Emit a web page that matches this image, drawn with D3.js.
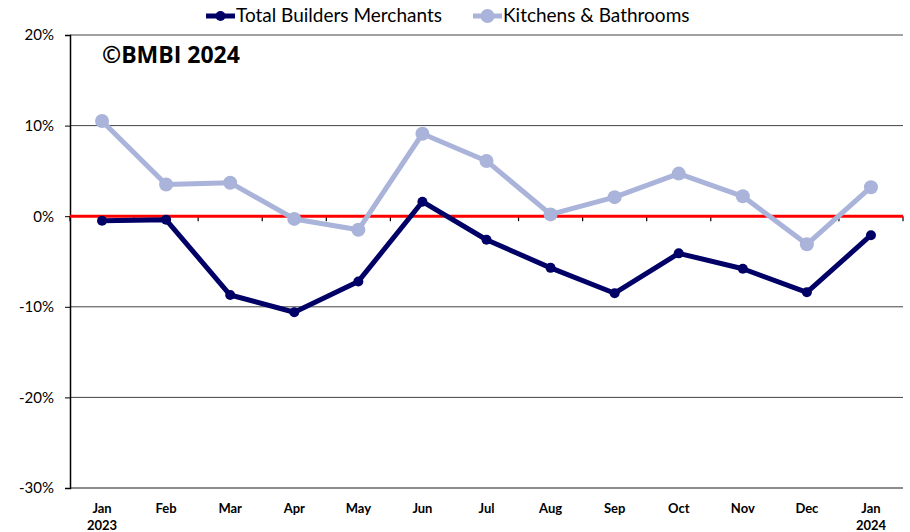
<!DOCTYPE html>
<html>
<head>
<meta charset="utf-8">
<script src="https://cdn.jsdelivr.net/npm/d3@7"></script>
<style>
  body { margin: 0; background: #fff; }
  svg { display: block; font-family: Lato, "Noto Sans", sans-serif; }
</style>
</head>
<body>
<svg id="chart" width="910" height="532"></svg>
<script>
// months on the x axis (second line = year, only on first/last)
const months = ["Jan", "Feb", "Mar", "Apr", "May", "Jun", "Jul", "Aug", "Sep", "Oct", "Nov", "Dec", "Jan"];
const years = ["2023", "", "", "", "", "", "", "", "", "", "", "", "2024"];

// % change
const totalBM = [-0.5, -0.4, -8.7, -10.6, -7.2, 1.6, -2.6, -5.7, -8.5, -4.1, -5.8, -8.4, -2.1];
const kitchensBath = [10.5, 3.5, 3.7, -0.3, -1.5, 9.1, 6.1, 0.2, 2.1, 4.7, 2.2, -3.1, 3.2];

const yTicks = [20, 10, 0, -10, -20, -30];

const seriesList = [
  { name: "Total Builders Merchants", values: totalBM, color: "#000066", r: 5 },
  { name: "Kitchens & Bathrooms", values: kitchensBath, color: "#aab3d9", r: 7 }
];

const svg = d3.select("#chart");
const margin = { left: 70, right: 7, top: 35, bottom: 44 };
const W = 910, H = 532;

const x = d3.scaleBand()
  .domain(d3.range(months.length))
  .range([margin.left, W - margin.right])
  .paddingInner(0).paddingOuter(0);

const y = d3.scaleLinear()
  .domain([-30, 20])
  .range([H - margin.bottom, margin.top]);

// gridlines
svg.append("g")
  .selectAll("line")
  .data(yTicks.filter(d => d !== 0))
  .enter().append("line")
  .attr("x1", margin.left)
  .attr("x2", W - margin.right)
  .attr("y1", d => y(d))
  .attr("y2", d => y(d))
  .attr("stroke", d => d === -30 ? "#666" : "#444")
  .attr("stroke-width", d => d === -30 ? 1.5 : 1);

// y axis
const yAxis = svg.append("g")
  .attr("transform", "translate(" + margin.left + ",0)")
  .call(d3.axisLeft(y).tickValues(yTicks).tickSize(5).tickFormat(d => d + "%"));
yAxis.select(".domain").attr("stroke", "#000").attr("stroke-width", 1.5);
yAxis.selectAll(".tick line").attr("stroke", "#000");
yAxis.selectAll("text")
  .attr("x", -16)
  .attr("font-family", "Lato, sans-serif")
  .attr("font-size", 15)
  .attr("fill", "#000");

// category tick marks on the zero line
svg.append("g")
  .selectAll("line")
  .data(d3.range(months.length + 1))
  .enter().append("line")
  .attr("x1", i => margin.left + i * x.bandwidth())
  .attr("x2", i => margin.left + i * x.bandwidth())
  .attr("y1", y(0))
  .attr("y2", y(0) + 5)
  .attr("stroke", "#000")
  .attr("stroke-width", 1.2);

// x labels
const xl = svg.append("g");
xl.selectAll("text.m")
  .data(months)
  .enter().append("text")
  .attr("class", "m")
  .attr("x", (d, i) => x(i) + x.bandwidth() / 2)
  .attr("y", 513)
  .attr("text-anchor", "middle")
  .attr("font-weight", "bold")
  .attr("font-size", 13)
  .text(d => d);
xl.selectAll("text.yr")
  .data(years)
  .enter().append("text")
  .attr("class", "yr")
  .attr("x", (d, i) => x(i) + x.bandwidth() / 2)
  .attr("y", 530)
  .attr("text-anchor", "middle")
  .attr("font-weight", "bold")
  .attr("font-size", 13)
  .text(d => d);

// red zero line
svg.append("line")
  .attr("x1", margin.left)
  .attr("x2", W - margin.right)
  .attr("y1", y(0))
  .attr("y2", y(0))
  .attr("stroke", "#ff0000")
  .attr("stroke-width", 3);

// series
const line = d3.line()
  .x((d, i) => x(i) + x.bandwidth() / 2)
  .y(d => y(d));

[seriesList[1], seriesList[0]].forEach(s => {
  const g = svg.append("g");
  g.append("path")
    .datum(s.values)
    .attr("d", line)
    .attr("fill", "none")
    .attr("stroke", s.color)
    .attr("stroke-width", 5)
    .attr("stroke-linejoin", "round");
  g.selectAll("circle")
    .data(s.values)
    .enter().append("circle")
    .attr("cx", (d, i) => x(i) + x.bandwidth() / 2)
    .attr("cy", d => y(d))
    .attr("r", s.r)
    .attr("fill", s.color);
});

// legend
const legend = svg.append("g");
const legendItems = [
  { s: seriesList[0], x: 206 },
  { s: seriesList[1], x: 473 }
];
legendItems.forEach(it => {
  legend.append("line")
    .attr("x1", it.x).attr("x2", it.x + 29)
    .attr("y1", 16).attr("y2", 16)
    .attr("stroke", it.s.color).attr("stroke-width", 5);
  legend.append("circle")
    .attr("cx", it.x + 14.5).attr("cy", 16).attr("r", it.s.r)
    .attr("fill", it.s.color);
  legend.append("text")
    .attr("x", it.x + 30).attr("y", 22)
    .attr("font-size", 19)
    .text(it.s.name);
});

// copyright
svg.append("text")
  .attr("x", 102)
  .attr("y", 63)
  .attr("font-family", "'Open Sans', sans-serif")
  .attr("font-weight", "bold")
  .attr("font-size", 23)
  .text("©BMBI 2024");
</script>
</body>
</html>
